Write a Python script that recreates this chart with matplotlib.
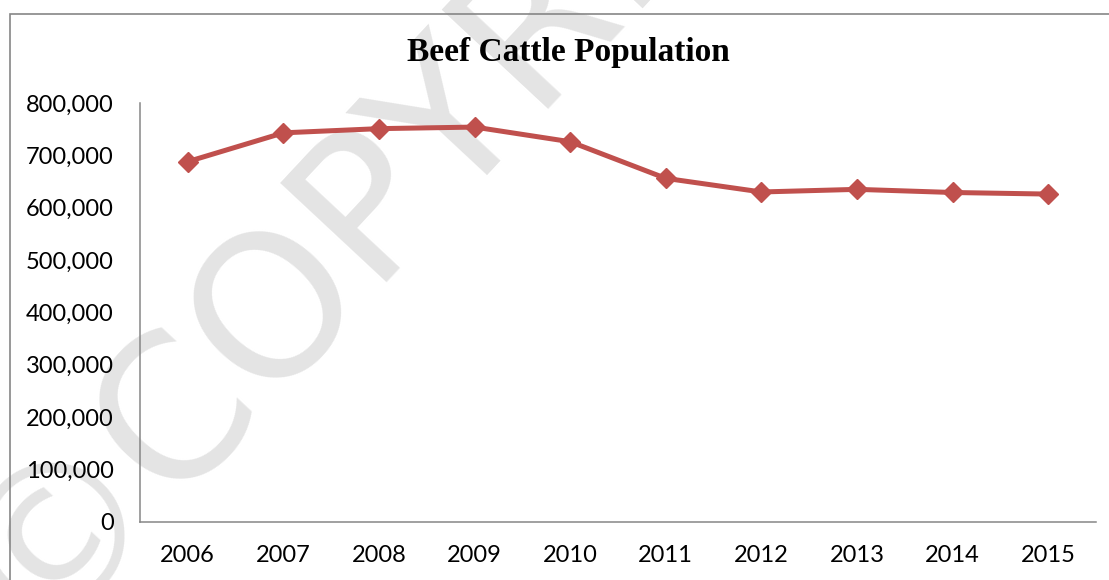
import matplotlib
matplotlib.use("Agg")
import matplotlib.pyplot as plt
from matplotlib.patches import Rectangle
from matplotlib.ticker import FuncFormatter

# Data
years = ["2006", "2007", "2008", "2009", "2010",
         "2011", "2012", "2013", "2014", "2015"]
population = [688000, 743000, 751000, 754000, 726000,
              656000, 630000, 635000, 629000, 626000]
y_ticks = [0, 100000, 200000, 300000, 400000, 500000, 600000, 700000, 800000]

LINE_RED = "#C0504D"
AXIS_GRAY = "#868686"

fig = plt.figure(figsize=(11.09, 5.80), dpi=100)
fig.patch.set_facecolor("white")

# faint document watermark behind the chart
fig.text(-0.01, -0.034, "\u00a9COPYRIGHT", fontsize=143, color="#e4e4e4",
         rotation=47, rotation_mode="anchor", ha="left", va="center",
         family="DejaVu Sans", zorder=-2)

# chart frame (top and left edges visible)
fig.patches.append(Rectangle((10 / 1109, -0.1), 1.2, 1 - 14 / 580 + 0.1,
                             transform=fig.transFigure, fill=False,
                             edgecolor=AXIS_GRAY, linewidth=1.2, zorder=-1))

ax = fig.add_axes([140 / 1109, 1 - 521.7 / 580, 956 / 1109, 418.7 / 580])
ax.set_facecolor("none")

x = list(range(len(years)))
ax.plot(x, population, color=LINE_RED, linewidth=3.6, marker="D",
        markersize=10, markerfacecolor=LINE_RED, markeredgecolor=LINE_RED,
        zorder=3)

ax.set_xlim(-0.5, len(years) - 0.5)
ax.set_ylim(0, 800000)
ax.set_xticks(x)
ax.set_xticklabels(years)
ax.set_yticks(y_ticks)
ax.yaxis.set_major_formatter(FuncFormatter(lambda v, _: f"{int(v):,}"))

for side in ["top", "right"]:
    ax.spines[side].set_visible(False)
for side in ["left", "bottom"]:
    ax.spines[side].set_color(AXIS_GRAY)
    ax.spines[side].set_linewidth(1.1)

ax.tick_params(axis="y", length=0, pad=19, labelsize=17)
ax.tick_params(axis="x", length=0, pad=17, labelsize=17)
for lab in ax.get_xticklabels() + ax.get_yticklabels():
    lab.set_family("Lato")

fig.text(568 / 1109, 1 - 53 / 580, "Beef Cattle Population",
         family="Liberation Serif", weight="bold", fontsize=24,
         ha="center", va="center")

fig.savefig("out.png", dpi=100)
